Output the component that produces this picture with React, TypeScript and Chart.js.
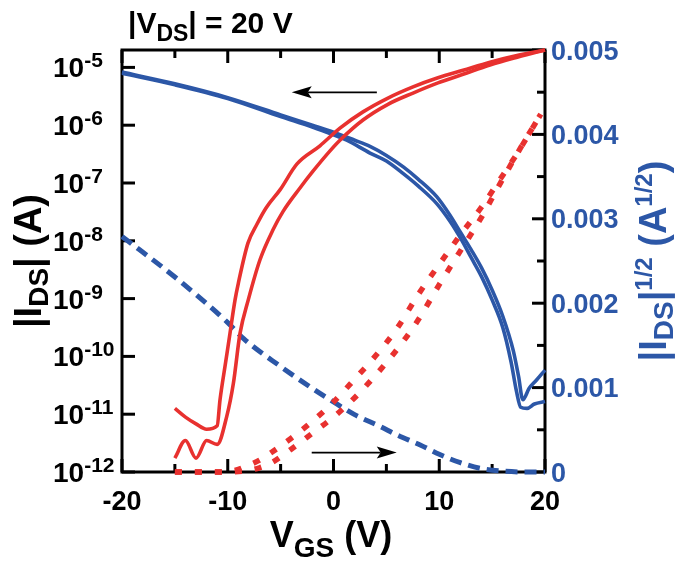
import React, { useEffect, useRef } from "react";
import { Chart, registerables } from "chart.js";

Chart.register(...registerables);

const RED = "#e8312f";
const BLUE = "#2c57a7";
const FONT = '"Liberation Sans", Arial, Helvetica, sans-serif';

// ---------- data ----------
// red solid (|I_DS|, left log axis), sweep A
const redA_V = [-15, -14, -13, -12, -11, -10.73, -10.2, -9.79, -9.31, -9.0, -8.09, -7.23, -6.38, -5.06, -3.45, -1.28, 0.61, 2.79, 5.15, 7.52, 9.88, 12.25, 14.8, 17.45, 20];
const redA_I = [1.26e-11, 8.9e-12, 6.8e-12, 5.5e-12, 6.3e-12, 1.78e-11, 7.9e-11, 2.5e-10, 9.5e-10, 1.84e-9, 9.1e-9, 1.95e-8, 3.7e-8, 7.6e-8, 2.14e-7, 4.4e-7, 8.9e-7, 1.7e-6, 2.95e-6, 4.6e-6, 6.6e-6, 8.9e-6, 1.23e-5, 1.62e-5, 2.0e-5];
// red solid, sweep B
const redB_V = [-15, -14, -13, -12, -11, -10.1, -9.47, -8.84, -8.06, -6.95, -5.72, -4.78, -3.17, -1.94, -0.33, 0.61, 2.79, 5.15, 7.52, 9.88, 12.25, 14.8, 17.45, 20];
const redB_I = [1.74e-12, 3.5e-12, 1.74e-12, 3.5e-12, 3.0e-12, 9.1e-12, 3.4e-11, 2.5e-10, 9.5e-10, 4.7e-9, 1.55e-8, 3.2e-8, 8.2e-8, 1.6e-7, 3.6e-7, 5.5e-7, 1.23e-6, 2.3e-6, 3.6e-6, 5.4e-6, 7.6e-6, 1.1e-5, 1.51e-5, 2.0e-5];
// blue solid (left log axis), upper branch
const blueU_V = [-20, -15, -10, -5, -2, 0, 2, 3.45, 5, 6.6, 8, 9.76, 11, 12, 13, 14, 15, 16, 17, 17.5, 17.9, 18.5, 19.2, 20];
const blueU_I = [8.3e-6, 5.2e-6, 3.0e-6, 1.51e-6, 1.0e-6, 7.6e-7, 5.5e-7, 4.3e-7, 3.0e-7, 1.9e-7, 1.17e-7, 5.8e-8, 2.8e-8, 1.41e-8, 7.1e-9, 3.4e-9, 1.41e-9, 5.0e-10, 1.26e-10, 4.5e-11, 1.78e-11, 2.8e-11, 3.9e-11, 5.8e-11];
// blue solid, lower branch
const blueL_V = [-20, -15, -10, -5, -2, 0, 1.25, 3.45, 5, 6.6, 8, 9.76, 11, 12, 13, 14, 15, 16, 16.8, 17.3, 17.7, 18.3, 19, 20];
const blueL_I = [7.9e-6, 5.0e-6, 2.9e-6, 1.41e-6, 9.3e-7, 6.8e-7, 5.5e-7, 3.3e-7, 2.4e-7, 1.45e-7, 8.9e-8, 4.4e-8, 2.2e-8, 1.12e-8, 5.2e-9, 2.4e-9, 9.5e-10, 3.2e-10, 7.9e-11, 2.5e-11, 1.32e-11, 1.26e-11, 1.5e-11, 1.66e-11];
// blue dashed (|I_DS|^1/2, right axis)
const blueSq_V = [-20, -15, -10, -8.5, -5, -2, 0, 2, 4.4, 6, 8.2, 10, 12, 14, 16, 18, 20];
const blueSq = [0.00279, 0.00231, 0.00177, 0.00158, 0.00125, 0.00099, 0.00083, 0.00068, 0.00054, 0.00044, 0.00032, 0.00021, 0.00011, 0.00004, 0.00001, 0, 0];
// red dashed, sweep A
const redSqA_V = [-15, -11, -10, -9, -8, -7, -6, -4, -2, 0, 2, 4, 6, 8, 10, 12, 14, 15.5, 17.5, 19.6];
const redSqA = [0, 0, 0.000005, 0.00003, 0.00008, 0.00014, 0.00022, 0.0004, 0.0006, 0.00083, 0.0011, 0.00138, 0.0017, 0.0021, 0.00246, 0.00281, 0.00314, 0.00342, 0.0038, 0.00424];
// red dashed, sweep B
const redSqB_V = [-15, -10, -8.5, -7, -6, -4, -2, 0, 2, 4, 6, 8, 10, 12, 14, 15.5, 17.5, 19.6];
const redSqB = [0, 0, 0.00001, 0.00005, 0.0001, 0.00027, 0.00046, 0.00065, 0.00088, 0.00115, 0.00145, 0.0018, 0.00222, 0.00262, 0.00302, 0.00336, 0.0038, 0.00424];

// ---------- ticks ----------
const xMajor = [-20, -10, 0, 10, 20];
const xMajorLabels = ["-20", "-10", "0", "10", "20"];
const xMinor = [-15, -5, 5, 15];
const leftTicks = [1e-12, 1e-11, 1e-10, 1e-9, 1e-8, 1e-7, 1e-6, 1e-5];
const leftExpLabels = ["-12", "-11", "-10", "-9", "-8", "-7", "-6", "-5"];
const rightMajor = [0, 0.001, 0.002, 0.003, 0.004, 0.005];
const rightMajorLabels = ["0", "0.001", "0.002", "0.003", "0.004", "0.005"];
const rightMinor = [0.0005, 0.0015, 0.0025, 0.0035, 0.0045];

// arrows
const arrowLeft = { from: 4.1, to: -3.95, value: 3.7e-6 };
const arrowRight = { from: -2.06, to: 5.98, value: 0.00023 };

type Seg = { t: string; size: number; dy?: number };

function measure(ctx: CanvasRenderingContext2D, segs: Seg[]) {
  let w = 0;
  for (const s of segs) {
    ctx.font = `bold ${s.size}px ${FONT}`;
    w += ctx.measureText(s.t).width;
  }
  return w;
}

function drawRich(ctx: CanvasRenderingContext2D, segs: Seg[], x: number, y: number, align: string, color: string, rot = 0) {
  const w = measure(ctx, segs);
  let cx = align === "left" ? 0 : align === "center" ? -w / 2 : -w;
  ctx.save();
  ctx.translate(x, y);
  if (rot) ctx.rotate(rot);
  ctx.fillStyle = color;
  ctx.textAlign = "left";
  ctx.textBaseline = "alphabetic";
  for (const s of segs) {
    ctx.font = `bold ${s.size}px ${FONT}`;
    ctx.fillText(s.t, cx, s.dy || 0);
    cx += ctx.measureText(s.t).width;
  }
  ctx.restore();
}

function arrow(ctx: CanvasRenderingContext2D, x1: number, x2: number, y: number) {
  const dir = Math.sign(x2 - x1);
  const head = 20;
  ctx.save();
  ctx.strokeStyle = "#000";
  ctx.fillStyle = "#000";
  ctx.lineWidth = 1.6;
  ctx.beginPath();
  ctx.moveTo(x1, y);
  ctx.lineTo(x2 - dir * head * 0.8, y);
  ctx.stroke();
  ctx.beginPath();
  ctx.moveTo(x2, y);
  ctx.lineTo(x2 - dir * head, y - 6);
  ctx.lineTo(x2 - dir * head * 0.8, y);
  ctx.lineTo(x2 - dir * head, y + 6);
  ctx.closePath();
  ctx.fill();
  ctx.restore();
}

const framePlugin = {
  id: "frame",
  beforeDatasetsDraw(chart: any) {
    const { ctx, chartArea } = chart;
    const { left, right, top, bottom } = chartArea;
    const x = chart.scales.x, yL = chart.scales.yL, yR = chart.scales.yR;
    ctx.save();
    ctx.strokeStyle = "#000";
    ctx.lineWidth = 3;
    ctx.lineCap = "butt";
    ctx.strokeRect(left, top, right - left, bottom - top);
    const tick = (x1: number, y1: number, x2: number, y2: number) => {
      ctx.beginPath();
      ctx.moveTo(x1, y1);
      ctx.lineTo(x2, y2);
      ctx.stroke();
    };
    xMajor.forEach((v) => {
      const px = x.getPixelForValue(v);
      tick(px, bottom, px, bottom - 13);
      tick(px, top, px, top + 13);
    });
    xMinor.forEach((v) => {
      const px = x.getPixelForValue(v);
      tick(px, bottom, px, bottom - 8);
      tick(px, top, px, top + 8);
    });
    leftTicks.forEach((v) => {
      const py = yL.getPixelForValue(v);
      tick(left, py, left + 13, py);
    });
    rightMajor.forEach((v) => {
      const py = yR.getPixelForValue(v);
      tick(right, py, right - 13, py);
    });
    rightMinor.forEach((v) => {
      const py = yR.getPixelForValue(v);
      tick(right, py, right - 8, py);
    });
    ctx.restore();
  },
  afterDraw(chart: any) {
    const { ctx, chartArea } = chart;
    const { left, right, top, bottom } = chartArea;
    const x = chart.scales.x, yL = chart.scales.yL, yR = chart.scales.yR;
    // x tick labels
    xMajor.forEach((v, i) => {
      drawRich(ctx, [{ t: xMajorLabels[i], size: 27 }], x.getPixelForValue(v), bottom + 38, "center", "#000");
    });
    // left tick labels
    leftTicks.forEach((v, i) => {
      const py = yL.getPixelForValue(v);
      drawRich(ctx, [{ t: "10", size: 28 }, { t: leftExpLabels[i], size: 21, dy: -10 }], 45, py + 10, "left", "#000");
    });
    // right tick labels
    rightMajor.forEach((v, i) => {
      const py = yR.getPixelForValue(v);
      drawRich(ctx, [{ t: rightMajorLabels[i], size: 27 }], right + 6, py + 9.5, "left", BLUE);
    });
    // top label
    drawRich(ctx, [{ t: "|V", size: 30 }, { t: "DS", size: 23, dy: 8 }, { t: "| = 20 V", size: 30 }], 120, 25, "left", "#000");
    // x title
    drawRich(ctx, [{ t: "V", size: 36 }, { t: "GS", size: 28, dy: 10 }, { t: " (V)", size: 36 }], 323, 539, "center", "#000");
    // left title
    drawRich(ctx, [{ t: "|I", size: 38 }, { t: "DS", size: 28, dy: 7 }, { t: "| (A)", size: 38 }], 33, (top + bottom) / 2, "center", "#000", -Math.PI / 2);
    // right title
    drawRich(
      ctx,
      [
        { t: "|I", size: 38 },
        { t: "DS", size: 28, dy: 7 },
        { t: "|", size: 38 },
        { t: "1/2", size: 24, dy: -14 },
        { t: " (A", size: 38 },
        { t: "1/2", size: 24, dy: -14 },
        { t: ")", size: 38 },
      ],
      658,
      (top + bottom) / 2,
      "center",
      BLUE,
      -Math.PI / 2
    );
    // arrows
    arrow(ctx, x.getPixelForValue(arrowLeft.from), x.getPixelForValue(arrowLeft.to), yL.getPixelForValue(arrowLeft.value));
    arrow(ctx, x.getPixelForValue(arrowRight.from), x.getPixelForValue(arrowRight.to), yR.getPixelForValue(arrowRight.value));
  },
};

function pts(xs: number[], ys: number[]) {
  return xs.map((v, i) => ({ x: v, y: ys[i] }));
}

export default function App() {
  const ref = useRef<HTMLCanvasElement | null>(null);
  useEffect(() => {
    if (!ref.current) return;
    const solid = (data: any, color: string) => ({
      data,
      borderColor: color,
      borderWidth: 3.6,
      pointRadius: 0,
      fill: false,
      clip: false,
      cubicInterpolationMode: "monotone",
      xAxisID: "x",
      yAxisID: "yL",
    });
    const dashed = (data: any, color: string, width: number, dash: number[]) => ({
      data,
      borderColor: color,
      borderWidth: width,
      borderDash: dash,
      borderCapStyle: "butt",
      pointRadius: 0,
      fill: false,
      clip: false,
      cubicInterpolationMode: "monotone",
      xAxisID: "x",
      yAxisID: "yR",
    });
    const chart = new Chart(ref.current, {
      type: "line",
      data: {
        datasets: [
          solid(pts(redA_V, redA_I), RED),
          solid(pts(redB_V, redB_I), RED),
          solid(pts(blueU_V, blueU_I), BLUE),
          solid(pts(blueL_V, blueL_I), BLUE),
          dashed(pts(redSqA_V, redSqA), RED, 5.5, [7, 13]),
          dashed(pts(redSqB_V, redSqB), RED, 5.5, [7, 13]),
          dashed(pts(blueSq_V, blueSq), BLUE, 5, [12, 7]),
        ] as any,
      },
      options: {
        responsive: false,
        animation: false,
        devicePixelRatio: 1,
        layout: { padding: { left: 114, right: 132, top: 42, bottom: 87 } },
        plugins: { legend: { display: false }, tooltip: { enabled: false } },
        scales: {
          x: { type: "linear", min: -20, max: 20, display: false },
          yL: { type: "logarithmic", position: "left", min: 1e-12, max: 2e-5, display: false },
          yR: { type: "linear", position: "right", min: 0, max: 0.005, display: false },
        },
      } as any,
      plugins: [framePlugin],
    });
    return () => chart.destroy();
  }, []);
  return (
    <div style={{ width: 669, height: 551 }}>
      <canvas ref={ref} width={669} height={551} style={{ display: "block" }} />
    </div>
  );
}
